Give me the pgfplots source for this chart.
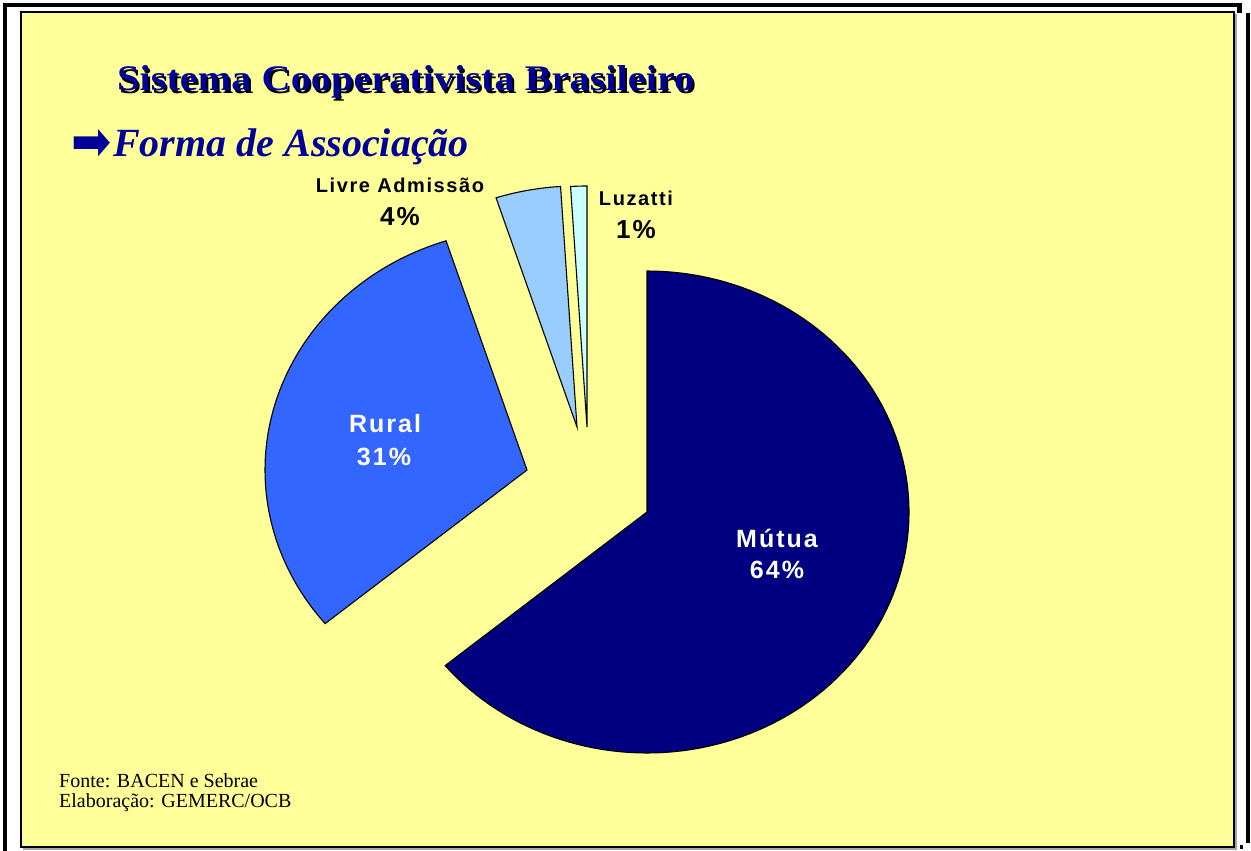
\documentclass[border=0pt]{standalone}
\usepackage{fontspec}
\setmainfont{Liberation Serif}
\newfontfamily\lab[LetterSpace=8.0]{Liberation Sans}
\newfontfamily\titlefont[FakeStretch=1.12]{Liberation Serif}
\newfontfamily\dejavu{DejaVu Sans}
\usepackage{pgfplots}
\usepackage{pgfplotstable}
\pgfplotsset{compat=1.18}

\definecolor{bg}{HTML}{FFFF99}
\definecolor{mutua}{HTML}{000080}
\definecolor{rural}{HTML}{3366FF}
\definecolor{livre}{HTML}{99CCFF}
\definecolor{luz}{HTML}{CCFFFF}
\definecolor{titleblue}{HTML}{000099}

% share (%) and position of each (exploded) slice's vertex
\pgfplotstableread{
name    value cx  cy
Mutua   64    647 512
Rural   31    527 470
Livre   4     577 427
Luzatti 1     587 427
}\piedata

\begin{document}
\begin{tikzpicture}
\pgfplotstablegetelem{0}{value}\of\piedata \let\vA\pgfplotsretval
\pgfplotstablegetelem{1}{value}\of\piedata \let\vB\pgfplotsretval
\pgfplotstablegetelem{2}{value}\of\piedata \let\vC\pgfplotsretval
\pgfplotstablegetelem{3}{value}\of\piedata \let\vD\pgfplotsretval
\pgfplotstablegetelem{0}{cx}\of\piedata \let\xA\pgfplotsretval
\pgfplotstablegetelem{1}{cx}\of\piedata \let\xB\pgfplotsretval
\pgfplotstablegetelem{2}{cx}\of\piedata \let\xC\pgfplotsretval
\pgfplotstablegetelem{3}{cx}\of\piedata \let\xD\pgfplotsretval
\pgfplotstablegetelem{0}{cy}\of\piedata \let\yA\pgfplotsretval
\pgfplotstablegetelem{1}{cy}\of\piedata \let\yB\pgfplotsretval
\pgfplotstablegetelem{2}{cy}\of\piedata \let\yC\pgfplotsretval
\pgfplotstablegetelem{3}{cy}\of\piedata \let\yD\pgfplotsretval
\pgfmathsetmacro\aA{90-3.6*\vA}
\pgfmathsetmacro\aB{\aA-3.6*\vB}
\pgfmathsetmacro\aC{\aB-3.6*\vC}
\pgfmathsetmacro\aD{\aC-3.6*\vD}
\begin{axis}[
  scale only axis, width=1251pt, height=851pt,
  xmin=0, xmax=1251, ymin=0, ymax=851, y dir=reverse,
  hide axis, clip=false]
  % page and frame
  \fill[white] (axis cs:0,0) rectangle (axis cs:1251,851);
  \fill[black] (axis cs:3,3) rectangle (axis cs:1242,7);
  \fill[black] (axis cs:1237,3) rectangle (axis cs:1242,13);
  \fill[black] (axis cs:3,3) rectangle (axis cs:7,851);
  \fill[black] (axis cs:1246,13) rectangle (axis cs:1250,843);
  \fill[black] (axis cs:1240,845) rectangle (axis cs:1243,849);
  \fill[gray!70] (axis cs:23,14) rectangle (axis cs:1237,850);
  \filldraw[fill=bg, draw=black, line width=1.5pt] (axis cs:21,12) rectangle (axis cs:1234,847);
  % slices
  \addplot[draw=black, line width=1.1pt, fill=mutua, domain=\aA:90, samples=120]
    ({\xA+262*cos(x)}, {\yA-241*sin(x)}) -- (axis cs:\xA,\yA) -- cycle;
  \addplot[draw=black, line width=1.1pt, fill=rural, domain=\aB:\aA, samples=80]
    ({\xB+262*cos(x)}, {\yB-241*sin(x)}) -- (axis cs:\xB,\yB) -- cycle;
  \addplot[draw=black, line width=1.1pt, fill=livre, domain=\aC:\aB, samples=20]
    ({\xC+262*cos(x)}, {\yC-241*sin(x)}) -- (axis cs:\xC,\yC) -- cycle;
  \addplot[draw=black, line width=1.1pt, fill=luz, domain=\aD:\aC, samples=8]
    ({\xD+262*cos(x)}, {\yD-241*sin(x)}) -- (axis cs:\xD,\yD) -- cycle;
  % slice labels
  \node[anchor=base, font=\lab\bfseries\fontsize{20}{22}\selectfont] at (axis cs:400,192) {Livre Admissão};
  \node[anchor=base, font=\lab\bfseries\fontsize{26}{28}\selectfont] at (axis cs:400,225) {4\%};
  \node[anchor=base, font=\lab\bfseries\fontsize{20}{22}\selectfont] at (axis cs:636,205) {Luzatti};
  \node[anchor=base, font=\lab\bfseries\fontsize{26}{28}\selectfont] at (axis cs:636,238) {1\%};
  \node[anchor=base, text=white, font=\lab\bfseries\fontsize{25}{28}\selectfont] at (axis cs:385,432) {Rural};
  \node[anchor=base, text=white, font=\lab\bfseries\fontsize{25}{28}\selectfont] at (axis cs:384,465) {31\%};
  \node[anchor=base, text=white, font=\lab\bfseries\fontsize{25}{28}\selectfont] at (axis cs:777,547) {Mútua};
  \node[anchor=base, text=white, font=\lab\bfseries\fontsize{25}{28}\selectfont] at (axis cs:777,578) {64\%};
  % titles
  \node[anchor=base west, inner sep=0pt, text=black, font=\titlefont\bfseries\fontsize{36}{40}\selectfont] at (axis cs:119,93) {Sistema Cooperativista Brasileiro};
  \node[anchor=base west, inner sep=0pt, text=titleblue, font=\titlefont\bfseries\fontsize{36}{40}\selectfont] at (axis cs:117,91) {Sistema Cooperativista Brasileiro};
  \node[anchor=west, inner sep=0pt, yscale=1.15, text=titleblue, font=\dejavu\fontsize{48}{50}\selectfont] at (axis cs:71,145) {➡};
  \node[anchor=base west, inner sep=0pt, text=titleblue, font=\bfseries\itshape\fontsize{40}{44}\selectfont] at (axis cs:113,156) {Forma de Associação};
  % source
  \node[anchor=base west, inner sep=0pt, align=left, font=\fontsize{20}{20}\selectfont] at (axis cs:59,787) {Fonte: BACEN e Sebrae};
  \node[anchor=base west, inner sep=0pt, align=left, font=\fontsize{20}{20}\selectfont] at (axis cs:59,807) {Elaboração: GEMERC/OCB};
\end{axis}
\end{tikzpicture}
\end{document}
